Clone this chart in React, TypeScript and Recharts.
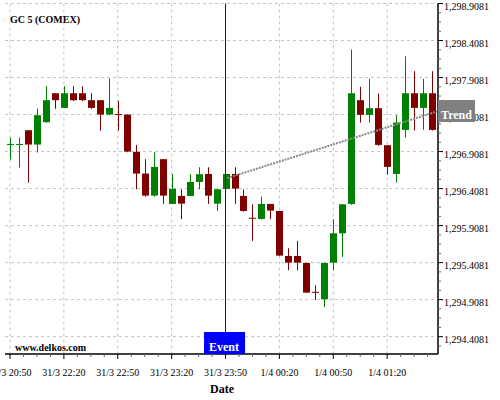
import React from 'react';
import {
  ComposedChart, Bar, XAxis, YAxis, CartesianGrid, ReferenceLine, ReferenceDot,
} from 'recharts';

// 5-minute candles, GC 5 (COMEX)
const timeLabels = ['31/3 20:50', '31/3 22:20', '31/3 22:50', '31/3 23:20', '31/3 23:50', '1/4 00:20', '1/4 00:50', '1/4 01:20'];
const labelIdx = [0, 6, 12, 18, 24, 30, 36, 42];

const open = [
  1297.003, 1297.003, 1297.196, 1297.003, 1297.305, 1297.696, 1297.498, 1297.696, 1297.696, 1297.602,
  1297.602, 1297.408, 1297.408, 1297.408, 1296.904, 1296.611, 1296.313, 1296.805, 1296.201, 1296.309,
  1296.309, 1296.498, 1296.606, 1296.205, 1296.404, 1296.606, 1296.309, 1296.007, 1295.998, 1296.201,
  1296.106, 1295.498, 1295.498, 1295.404, 1295.007, 1294.913, 1295.408, 1295.804, 1296.201, 1297.602,
  1297.404, 1297.494, 1296.994, 1296.606, 1297.201, 1297.696, 1297.498, 1297.696,
];
const high = [
  1297.097, 1297.097, 1297.196, 1297.489, 1297.791, 1297.696, 1297.791, 1297.791, 1297.791, 1297.696,
  1297.602, 1297.895, 1297.593, 1297.408, 1296.998, 1296.805, 1296.899, 1296.805, 1296.606, 1296.399,
  1296.602, 1296.696, 1296.696, 1296.399, 1296.606, 1296.696, 1296.399, 1296.196, 1296.300, 1296.201,
  1296.106, 1295.602, 1295.701, 1295.404, 1295.102, 1295.404, 1295.994, 1296.196, 1298.287, 1297.782,
  1297.890, 1297.692, 1296.994, 1297.399, 1298.196, 1297.994, 1297.890, 1297.994,
];
const low = [
  1296.800, 1296.692, 1296.489, 1296.895, 1297.300, 1297.485, 1297.498, 1297.590, 1297.590, 1297.485,
  1297.192, 1297.400, 1297.192, 1296.900, 1296.400, 1296.300, 1296.300, 1296.201, 1296.200, 1295.994,
  1296.305, 1296.399, 1296.201, 1296.106, 1296.400, 1296.201, 1296.097, 1295.701, 1295.990, 1295.994,
  1295.500, 1295.305, 1295.305, 1294.998, 1294.904, 1294.809, 1295.305, 1295.485, 1296.190, 1297.300,
  1297.300, 1296.985, 1296.597, 1296.489, 1297.097, 1297.192, 1297.201, 1297.192,
];
const close = [
  1297.004, 1297.004, 1297.003, 1297.399, 1297.602, 1297.602, 1297.696, 1297.602, 1297.602, 1297.498,
  1297.408, 1297.498, 1297.408, 1296.908, 1296.611, 1296.313, 1296.701, 1296.313, 1296.404, 1296.205,
  1296.498, 1296.602, 1296.313, 1296.399, 1296.606, 1296.408, 1296.106, 1296.007, 1296.201, 1296.111,
  1295.503, 1295.408, 1295.408, 1295.003, 1295.007, 1295.404, 1295.804, 1296.196, 1297.696, 1297.404,
  1297.494, 1296.998, 1296.701, 1297.300, 1297.696, 1297.498, 1297.696, 1297.201,
];

const yMajor = [1294.4081, 1294.9081, 1295.4081, 1295.9081, 1296.4081, 1296.9081, 1297.4081, 1297.9081, 1298.4081, 1298.9081];
const Y_MIN = 1294.174;
const Y_MAX = 1298.9081;
const X_MIN = -0.557;
const X_MAX = 47.66;

const EVENT_IDX = 24;
const trendStart = { x: 24.2, y: 1296.55 };
const trendEnd = { x: 47.55, y: 1297.45 };

const UP = '#008000';
const DOWN = '#800000';
const SERIF = '"Liberation Serif", "Times New Roman", serif';

const rows = open.map((o, i) => ({ idx: i, open: o, high: high[i], low: low[i], close: close[i] }));

// minor ticks: 4 per label on x, 4 per 0.5 on y
const xTicks = Array.from({ length: 32 }, (_, i) => i * 1.5);
const yTicks = [yMajor[0] - 0.125, ...yMajor.flatMap((m, i) => (i === yMajor.length - 1 ? [m] : [m, m + 0.125, m + 0.25, m + 0.375]))];

const fmtPrice = (v: number) => v.toLocaleString('en-US', { minimumFractionDigits: 4, maximumFractionDigits: 4 });

function Candle(props: any) {
  const { x, y, width, height, payload } = props;
  const { open: o, close: c, high: h, low: l } = payload;
  const color = c > o ? UP : DOWN;
  const k = height / (h - l || 1);
  const yOf = (v: number) => y + (h - v) * k;
  const cx = Math.round(x + width / 2) + 0.5;
  const top = yOf(Math.max(o, c));
  const bot = yOf(Math.min(o, c));
  return (
    <g>
      <line x1={cx} x2={cx} y1={y} y2={y + height} stroke={color} strokeWidth={1} />
      {bot - top < 1
        ? <line x1={cx - 3.5} x2={cx + 3.5} y1={top} y2={top} stroke={color} strokeWidth={1} />
        : <rect x={cx - 3.5} y={top} width={7} height={bot - top} fill={color} />}
    </g>
  );
}

function XTick({ x, y, payload }: any) {
  const pos = labelIdx.indexOf(payload.value);
  const major = pos >= 0;
  return (
    <g>
      <line x1={x} x2={x} y1={y} y2={y + (major ? 5 : 3)} stroke={major ? '#000' : '#666'} />
      {major && (
        <text x={x} y={y + 22} textAnchor="middle" fontSize={10} fontFamily={SERIF} fill="#000">
          {timeLabels[pos]}
        </text>
      )}
    </g>
  );
}

function YTick({ x, y, payload }: any) {
  const v = payload.value;
  const major = yMajor.some((m) => Math.abs(m - v) < 1e-6);
  return (
    <g>
      <line x1={x} x2={x + (major ? 5 : 3)} y1={y} y2={y} stroke={major ? '#000' : '#666'} />
      {major && (
        <text x={x + 6} y={y + 6} fontSize={10} fontFamily={SERIF} fill="#000">
          {fmtPrice(v)}
        </text>
      )}
    </g>
  );
}

function EventFlag({ cx, cy }: any) {
  return (
    <g>
      <rect x={cx - 21.5} y={cy - 22} width={41} height={22} fill="#0000ff" />
      <text x={cx - 1.5} y={cy - 3.5} textAnchor="middle" fill="#fff" fontWeight="bold" fontSize={12} fontFamily={SERIF}>
        Event
      </text>
    </g>
  );
}

const textStyle: React.CSSProperties = {
  position: 'absolute', fontFamily: SERIF, fontWeight: 'bold', color: '#000', whiteSpace: 'nowrap',
};

export default function App() {
  return (
    <div style={{ position: 'absolute', left: 0, top: 0, width: 500, height: 400, background: '#fff' }}>
      <ComposedChart width={500} height={400} data={rows} margin={{ top: 3.5, right: 0, bottom: 0, left: 5 }}>
        <CartesianGrid horizontalValues={yMajor} verticalValues={labelIdx} stroke="#c4c4c4" strokeDasharray="3 3" />
        <XAxis
          dataKey="idx" type="number" domain={[X_MIN, X_MAX]} allowDataOverflow ticks={xTicks} interval={0}
          tickSize={0} tickMargin={0} tick={<XTick />} tickLine={false} height={46}
          axisLine={{ stroke: '#000', strokeWidth: 1.5 }}
        />
        <YAxis
          orientation="right" type="number" domain={[Y_MIN, Y_MAX]} allowDataOverflow ticks={yTicks} interval={0}
          tickSize={0} tickMargin={0} tick={<YTick />} tickLine={false} width={62}
          axisLine={{ stroke: '#000', strokeWidth: 1.5 }}
        />
        <ReferenceLine x={EVENT_IDX} stroke="#0000ff" strokeWidth={1} />
        <Bar dataKey={(d: any) => [d.low, d.high]} barSize={7} shape={<Candle />} isAnimationActive={false} />
        <ReferenceLine
          segment={[trendStart, trendEnd]} stroke="#8a8a8a" strokeWidth={2} strokeDasharray="2 1" ifOverflow="visible"
        />
        <ReferenceDot x={EVENT_IDX} y={Y_MIN} shape={<EventFlag />} ifOverflow="visible" />
      </ComposedChart>
      <div style={{ ...textStyle, left: 10, top: 15, fontSize: 10, lineHeight: '10px' }}>GC 5 (COMEX)</div>
      <div style={{ ...textStyle, left: 15, top: 342.6, fontSize: 10, lineHeight: '10px' }}>www.delkos.com</div>
      <div style={{ ...textStyle, left: 172, top: 383.3, width: 100, textAlign: 'center', fontSize: 12, lineHeight: '12px' }}>Date</div>
      {/* trend tag sits over the price axis labels */}
      <div
        style={{
          ...textStyle, left: 438, top: 100, width: 37, height: 22, background: '#808080', color: '#fff',
          fontSize: 12, lineHeight: '12px', textAlign: 'center', paddingTop: 9, boxSizing: 'border-box',
        }}
      >
        Trend
      </div>
    </div>
  );
}
